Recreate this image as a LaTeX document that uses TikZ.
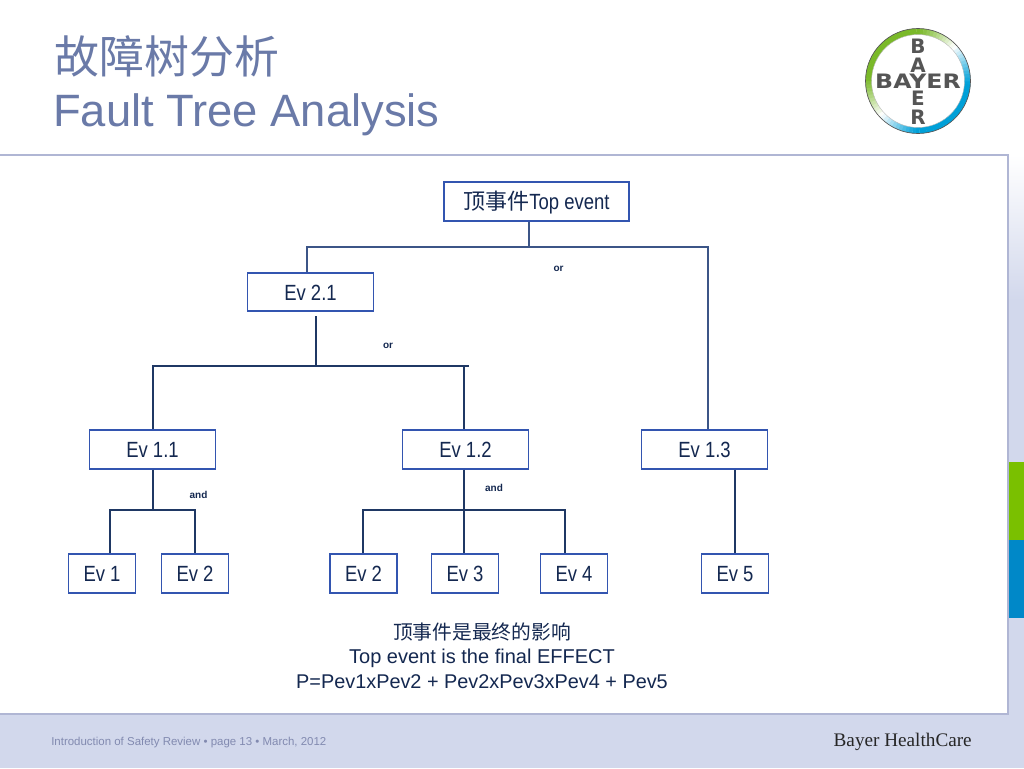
\documentclass[tikz,border=0pt]{standalone}
\usepackage{fontspec}
\setmainfont{Liberation Sans}
\newfontfamily\cjktitle{Noto Sans CJK SC}
\newfontfamily\cjkbox{Noto Sans CJK SC}
\newfontfamily\boxfont{Liberation Sans}[FakeStretch=0.84]
\newfontfamily\logofont{DejaVu Sans Bold}[FakeStretch=1.19]
\newfontfamily\logofontv{DejaVu Sans Bold}
\newfontfamily\brandfont{Liberation Serif}
\definecolor{r210g216b236}{RGB}{210,216,236}
\definecolor{r176g182b212}{RGB}{176,182,212}
\definecolor{r106g122b168}{RGB}{106,122,168}
\definecolor{r51g85b176}{RGB}{51,85,176}
\definecolor{r31g56b100}{RGB}{31,56,100}
\definecolor{r60g85b135}{RGB}{60,85,135}
\definecolor{r20g40b80}{RGB}{20,40,80}
\definecolor{r130g138b176}{RGB}{130,138,176}
\definecolor{r122g192b0}{RGB}{122,192,0}
\definecolor{r0g136b200}{RGB}{0,136,200}
\definecolor{r122g185b41}{RGB}{122,185,41}
\definecolor{r0g160b216}{RGB}{0,160,216}
\definecolor{r85g85b85}{RGB}{85,85,85}
\tikzset{
  evbox/.style={draw=r51g85b176,fill=white,line width=1.25pt,text=r20g40b80,inner sep=0pt,
    minimum height=28.8pt,text height=12pt,text depth=0pt,font=\boxfont\fontsize{16.5}{18}\selectfont},
  widebox/.style={evbox,minimum width=94.5pt},
  leafbox/.style={evbox,minimum width=50.2pt},
  gate/.style={text=r20g40b80,font=\fontsize{7.5}{9}\selectfont\bfseries},
  wire/.style={draw=r31g56b100,line width=0.8pt},
  wiretop/.style={draw=r60g85b135,line width=0.85pt},
  logoletter/.style={text=r85g85b85,inner sep=0pt,font=\logofont\fontsize{14.9}{16}\selectfont},
  logostack/.style={text=r85g85b85,inner sep=0pt,align=center,font=\logofontv\fontsize{14.9}{13.9}\selectfont},
}
\begin{document}
\begin{tikzpicture}[x=0.75pt,y=-0.75pt]
\useasboundingbox (0,0) rectangle (1024,768);

% Drawing background and panel
\fill [white] (0,0) rectangle (1024,768);
\fill [r210g216b236] (0,300) rectangle (1024,768);
\shade [top color=white,bottom color=r210g216b236] (1000,155) rectangle (1024,300);
\draw [r176g182b212,line width=1pt,fill=white] (-3,155) rectangle (1008,714);
\fill [r122g192b0] (1009,462) rectangle (1024,540);
\fill [r0g136b200] (1009,540) rectangle (1024,618);

% Title
\node (titlecn) [anchor=west,inner sep=0pt,text=r106g122b168] at (54,56)
  {\cjktitle\fontsize{33.7}{36}\selectfont 故障树分析};
\node (titleen) [anchor=west,inner sep=0pt,text=r106g122b168] at (53,115)
  {\fontsize{34}{36}\selectfont Fault Tree Analysis};

% Logo ring, one short arc for each step
\foreach \a in {0,4,...,356} {
  \pgfmathtruncatemacro{\gw}{min(100,max(0,140*cos(\a+135)))}
  \pgfmathtruncatemacro{\bw}{min(100,max(0,140*cos(\a-45)))}
  \colorlet{ringc}{r122g185b41!\gw!white}
  \ifnum\gw=0 \colorlet{ringc}{r0g160b216!\bw!white}\fi
  \draw [ringc,line width=4.5pt] (918,81) ++(\a:49.5) arc (\a:\a+4.5:49.5);
}
\draw [r85g85b85,line width=0.5pt] (918,81) circle (52.5);
\draw [r85g85b85!40,line width=0.3pt] (918,81) circle (46.5);
\node (logoh) [logoletter] at (918,81) {BAYER};
\node (logoup) [logostack] at (918,55.5) {B\\A};
\node (logodn) [logostack] at (918,108) {E\\R};

% Boxes
\node (top) [evbox,minimum width=138.5pt] at (536.5,201.5)
  {{\cjkbox 顶事件}Top event};
\node (ev21) [widebox] at (310.5,292) {Ev 2.1};
\node (ev11) [widebox] at (152.5,449.5) {Ev 1.1};
\node (ev12) [widebox] at (465.5,449.5) {Ev 1.2};
\node (ev13) [widebox] at (704.5,449.5) {Ev 1.3};
\node (ev1) [leafbox] at (102,573.5) {Ev 1};
\node (ev2) [leafbox] at (195,573.5) {Ev 2};
\node (ev2b) [leafbox] at (363.5,573.5) {Ev 2};
\node (ev3) [leafbox] at (465,573.5) {Ev 3};
\node (ev4) [leafbox] at (574,573.5) {Ev 4};
\node (ev5) [leafbox] at (735,573.5) {Ev 5};

% Junctions
\coordinate (jtop) at (529,247);
\coordinate (jtopl) at (307,247);
\coordinate (jtopr) at (708,247);
\coordinate (jmid) at (316,366);
\coordinate (jmidl) at (153,366);
\coordinate (jmidr) at (464,366);
\coordinate (jstub) at (469,366);
\coordinate (jand) at (153,510);
\coordinate (jandl) at (110,510);
\coordinate (jandr) at (195,510);
\coordinate (jbnd) at (464,510);
\coordinate (jbndl) at (363,510);
\coordinate (jbndr) at (565,510);
\coordinate (jstem) at (316,316);

% Drawing connectors
\draw [wiretop] (top.south -| jtop) -- (jtop);
\draw [wiretop] (ev21.north -| jtopl) -- (jtopl) -- (jtopr) -- (ev13.north -| jtopr);
\draw [wire] (jstem) -- (jmid);
\draw [wire] (ev11.north -| jmidl) -- (jmidl) -- (jstub);
\draw [wire] (jmidr) -- (ev12.north -| jmidr);
\draw [wire] (ev11.south -| jand) -- (jand);
\draw [wire] (ev1.north -| jandl) -- (jandl) -- (jandr) -- (ev2.north -| jandr);
\draw [wire] (ev12.south -| jbnd) -- (ev3.north -| jbnd);
\draw [wire] (ev2b.north -| jbndl) -- (jbndl) -- (jbndr) -- (ev4.north -| jbndr);
\draw [wire] (ev13.south -| ev5) -- (ev5.north);

% Marking gates
\node (gatetop) [gate] at (558.5,269) {or};
\node (gatemid) [gate] at (388,346) {or};
\node (gateand) [gate] at (198.5,494.5) {and};
\node (gatebnd) [gate] at (494,487.5) {and};

% Caption
\node (capcn) [text=r20g40b80,inner sep=0pt] at (482,632)
  {\cjkbox\fontsize{14.8}{16}\selectfont 顶事件是最终的影响};
\node (capen) [text=r20g40b80,inner sep=0pt] at (482,658.5)
  {\fontsize{15}{16}\selectfont Top event is the final EFFECT};
\node (capeq) [text=r20g40b80,inner sep=0pt] at (482,682)
  {\fontsize{14.9}{16}\selectfont P=Pev1xPev2 + Pev2xPev3xPev4 + Pev5};

% Footer
\node (footer) [anchor=west,inner sep=0pt,text=r130g138b176] at (51,742.5)
  {\fontsize{8.6}{10}\selectfont Introduction of Safety Review • page 13 • March, 2012};
\node (brand) [anchor=east,inner sep=0pt,text=black!85] at (972,741.5)
  {\brandfont\fontsize{14.4}{16}\selectfont Bayer HealthCare};
\end{tikzpicture}
\end{document}
